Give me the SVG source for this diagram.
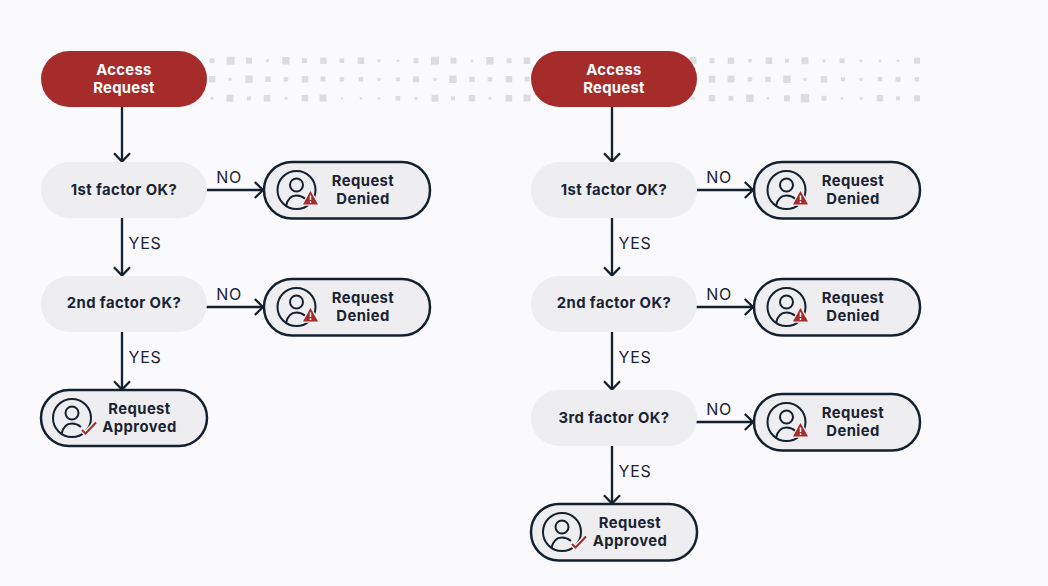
<svg xmlns="http://www.w3.org/2000/svg" xmlns:xlink="http://www.w3.org/1999/xlink" width="1048" height="586" viewBox="0 0 1048 586">
<style>
text{font-family:"Inter","Liberation Sans",sans-serif;text-anchor:middle}
.t{font-size:14.8px;font-weight:700;fill:#1a2333;letter-spacing:.42px}
.w{font-size:14.8px;font-weight:700;fill:#fff;letter-spacing:.3px}
.l{font-size:16px;font-weight:400;fill:#1a2333;letter-spacing:.7px}
.start{fill:#a62b2b}
.q{fill:#eeeef0}
.r{fill:#eeeef0;stroke:#15202f;stroke-width:2.5}
.c{fill:none;stroke:#15202f;stroke-width:2.3}
.i{fill:none;stroke:#15202f;stroke-width:2}
.d rect{fill:#dddde1}
</style>
<defs>
<marker id="a" markerUnits="userSpaceOnUse" markerWidth="20" markerHeight="20" refX="15" refY="10" orient="auto"><path d="M6.8 2L15 10L6.8 18" fill="none" stroke="#15202f" stroke-width="2.3"/></marker>
<g id="p"><circle r="19" class="i"/><circle cx="0" cy="-5" r="6.5" class="i"/><path d="M-10.5 16C-9 9-5 5.5 0 5.5C3 5.5 6 6.5 9 9" class="i"/></g>
<g id="w"><use href="#p"/><path d="M6.5 14.5L14 1L21.5 14.5Z" fill="#a62b2b" stroke="#eeeef0" stroke-width="2.5" paint-order="stroke"/><path d="M14 5.5V10M14 11.2V13" stroke="#fff" stroke-width="1.5" fill="none"/></g>
<g id="k"><use href="#p"/><path d="M10 12L13.5 15.5L24 4.5" fill="none" stroke="#eeeef0" stroke-width="5"/><path d="M10 12L13.5 15.5L24 4.5" fill="none" stroke="#a62b2b" stroke-width="2"/></g>
</defs>
<rect width="1048" height="586" fill="#fafafd"/>
<g id="dots" class="d">
<rect x="209.5" y="58.2" width="5" height="5"/><rect x="226.7" y="56.7" width="8" height="8"/><rect x="246" y="57.7" width="6" height="6"/><rect x="266" y="59.2" width="3" height="3"/><rect x="282.2" y="57" width="7.5" height="7.5"/><rect x="302" y="58.2" width="5" height="5"/><rect x="320.2" y="57.5" width="6.5" height="6.5"/><rect x="339.7" y="58.5" width="4.5" height="4.5"/><rect x="357.7" y="57.5" width="6.5" height="6.5"/><rect x="377.5" y="59.2" width="3" height="3"/><rect x="396.7" y="59.5" width="2.5" height="2.5"/><rect x="413.5" y="58.2" width="5" height="5"/><rect x="431" y="56.7" width="8" height="8"/><rect x="450.5" y="57.7" width="6" height="6"/><rect x="470.7" y="59.5" width="2.5" height="2.5"/><rect x="486.2" y="57" width="7.5" height="7.5"/><rect x="506.5" y="58.2" width="5" height="5"/><rect x="523.7" y="57.5" width="6.5" height="6.5"/>
<rect x="689.5" y="57" width="7" height="7"/><rect x="709.5" y="58.2" width="5" height="5"/><rect x="727.7" y="57.5" width="6.5" height="6.5"/><rect x="748.2" y="59" width="3.5" height="3.5"/><rect x="765.7" y="57.5" width="6.5" height="6.5"/><rect x="785" y="58.7" width="4" height="4"/><rect x="801.5" y="57.2" width="7" height="7"/><rect x="822.5" y="59.2" width="3" height="3"/><rect x="839.5" y="58.2" width="5" height="5"/><rect x="859.7" y="59.5" width="2.5" height="2.5"/><rect x="878.7" y="59.5" width="2.5" height="2.5"/><rect x="896.7" y="59.5" width="2.5" height="2.5"/><rect x="914" y="57.7" width="6" height="6"/>
<rect x="208.7" y="76" width="6.5" height="6.5"/><rect x="228.5" y="77.8" width="3" height="3"/><rect x="245.2" y="75.5" width="7.5" height="7.5"/><rect x="265.2" y="76.5" width="5.5" height="5.5"/><rect x="283.7" y="77" width="4.5" height="4.5"/><rect x="301.7" y="76" width="6.5" height="6.5"/><rect x="320.5" y="76.5" width="5" height="5"/><rect x="339.7" y="77" width="4.5" height="4.5"/><rect x="358.7" y="77" width="4.5" height="4.5"/><rect x="377.5" y="77.8" width="3" height="3"/><rect x="396" y="77.3" width="4" height="4"/><rect x="413" y="76.3" width="6" height="6"/><rect x="433.5" y="77.8" width="3" height="3"/><rect x="449.2" y="75.5" width="7.5" height="7.5"/><rect x="469.2" y="76.5" width="5.5" height="5.5"/><rect x="487.7" y="77" width="4.5" height="4.5"/><rect x="505.7" y="76" width="6.5" height="6.5"/><rect x="524.5" y="76.5" width="5" height="5"/>
<rect x="708.5" y="75.8" width="7" height="7"/><rect x="727.5" y="75.5" width="7" height="7"/><rect x="747.7" y="77" width="4.5" height="4.5"/><rect x="765.2" y="76.5" width="5.5" height="5.5"/><rect x="783.2" y="75.5" width="7.5" height="7.5"/><rect x="803.5" y="77.8" width="3" height="3"/><rect x="820.7" y="76" width="6.5" height="6.5"/><rect x="841" y="77.3" width="4" height="4"/><rect x="859.5" y="77.8" width="3" height="3"/><rect x="877.7" y="77" width="4.5" height="4.5"/><rect x="895.5" y="76.8" width="5" height="5"/><rect x="914.7" y="77" width="4.5" height="4.5"/>
<rect x="210.5" y="96.8" width="3" height="3"/><rect x="226.5" y="94.8" width="7" height="7"/><rect x="247" y="96.3" width="4" height="4"/><rect x="263.7" y="95" width="6.5" height="6.5"/><rect x="284.5" y="96.8" width="3" height="3"/><rect x="301.7" y="95" width="6.5" height="6.5"/><rect x="319.5" y="94.5" width="7" height="7"/><rect x="341" y="97.3" width="2" height="2"/><rect x="359.7" y="97" width="2.5" height="2.5"/><rect x="377.7" y="97" width="2.5" height="2.5"/><rect x="395.7" y="96" width="4.5" height="4.5"/><rect x="414.5" y="96.8" width="3" height="3"/><rect x="431.5" y="94.8" width="7" height="7"/><rect x="451" y="96.3" width="4" height="4"/><rect x="468.7" y="95" width="6.5" height="6.5"/><rect x="488.5" y="96.8" width="3" height="3"/><rect x="505.7" y="95" width="6.5" height="6.5"/><rect x="523.5" y="94.5" width="7" height="7"/>
<rect x="691.5" y="96.8" width="3" height="3"/><rect x="708.7" y="95" width="6.5" height="6.5"/><rect x="728.5" y="95.8" width="5" height="5"/><rect x="746.2" y="94.5" width="7.5" height="7.5"/><rect x="766.7" y="97" width="2.5" height="2.5"/><rect x="784" y="95.3" width="6" height="6"/><rect x="800.7" y="94" width="8.5" height="8.5"/><rect x="821.5" y="95.8" width="5" height="5"/><rect x="840.7" y="97" width="2.5" height="2.5"/><rect x="859.5" y="96.8" width="3" height="3"/><rect x="876.7" y="95" width="6.5" height="6.5"/><rect x="896" y="96.3" width="4" height="4"/><rect x="914" y="95.3" width="6" height="6"/>
</g>
<g id="connectors" class="c">
<path d="M122 107V161.5" marker-end="url(#a)"/><path d="M122 218V275.5" marker-end="url(#a)"/><path d="M122 332V389.5" marker-end="url(#a)"/>
<path d="M206 190H263" marker-end="url(#a)"/><path d="M206 307H263" marker-end="url(#a)"/>
<path d="M612 107V161.5" marker-end="url(#a)"/><path d="M612 218V275.5" marker-end="url(#a)"/><path d="M612 332V389.5" marker-end="url(#a)"/><path d="M612 446V503.5" marker-end="url(#a)"/>
<path d="M696 190H753" marker-end="url(#a)"/><path d="M696 307H753" marker-end="url(#a)"/><path d="M696 422H753" marker-end="url(#a)"/>
</g>
<g id="labels">
<text class="l" x="229" y="183">NO</text><text class="l" x="145" y="249">YES</text><text class="l" x="229" y="300">NO</text><text class="l" x="145" y="363">YES</text>
<text class="l" x="719" y="183">NO</text><text class="l" x="635" y="249">YES</text><text class="l" x="719" y="300">NO</text><text class="l" x="635" y="363">YES</text><text class="l" x="719" y="415">NO</text><text class="l" x="635" y="477">YES</text>
</g>
<g id="start-a"><rect class="start" x="41" y="51" width="166" height="56" rx="28"/><text class="w" x="124" y="75">Access</text><text class="w" x="124" y="93">Request</text></g>
<g id="q1-a"><rect class="q" x="41" y="162" width="166" height="56" rx="28"/><text class="t" x="124" y="195">1st factor OK?</text></g>
<g id="q2-a"><rect class="q" x="41" y="276" width="166" height="56" rx="28"/><text class="t" x="124" y="308">2nd factor OK?</text></g>
<g id="denied1-a"><rect class="r" x="264" y="162" width="166" height="56.5" rx="28"/><use href="#w" x="296.5" y="190"/><text class="t" x="363" y="186">Request</text><text class="t" x="363" y="204">Denied</text></g>
<g id="denied2-a"><rect class="r" x="264" y="279" width="166" height="56.5" rx="28"/><use href="#w" x="296.5" y="307"/><text class="t" x="363" y="303">Request</text><text class="t" x="363" y="321">Denied</text></g>
<g id="approved-a"><rect class="r" x="41" y="390" width="166" height="56" rx="28"/><use href="#k" x="72" y="418"/><text class="t" x="139.5" y="414">Request</text><text class="t" x="139.5" y="432">Approved</text></g>
<g id="start-b"><rect class="start" x="531" y="51" width="166" height="56" rx="28"/><text class="w" x="614" y="75">Access</text><text class="w" x="614" y="93">Request</text></g>
<g id="q1-b"><rect class="q" x="531" y="162" width="166" height="56" rx="28"/><text class="t" x="614" y="195">1st factor OK?</text></g>
<g id="q2-b"><rect class="q" x="531" y="276" width="166" height="56" rx="28"/><text class="t" x="614" y="308">2nd factor OK?</text></g>
<g id="q3-b"><rect class="q" x="531" y="390" width="166" height="56" rx="28"/><text class="t" x="614" y="423">3rd factor OK?</text></g>
<g id="denied1-b"><rect class="r" x="754" y="162" width="166" height="56.5" rx="28"/><use href="#w" x="786.5" y="190"/><text class="t" x="853" y="186">Request</text><text class="t" x="853" y="204">Denied</text></g>
<g id="denied2-b"><rect class="r" x="754" y="279" width="166" height="56.5" rx="28"/><use href="#w" x="786.5" y="307"/><text class="t" x="853" y="303">Request</text><text class="t" x="853" y="321">Denied</text></g>
<g id="denied3-b"><rect class="r" x="754" y="394" width="166" height="56.5" rx="28"/><use href="#w" x="786.5" y="422"/><text class="t" x="853" y="418">Request</text><text class="t" x="853" y="436">Denied</text></g>
<g id="approved-b"><rect class="r" x="531" y="504" width="166" height="56.5" rx="28"/><use href="#k" x="562" y="532"/><text class="t" x="630" y="528">Request</text><text class="t" x="630" y="546">Approved</text></g>
</svg>
